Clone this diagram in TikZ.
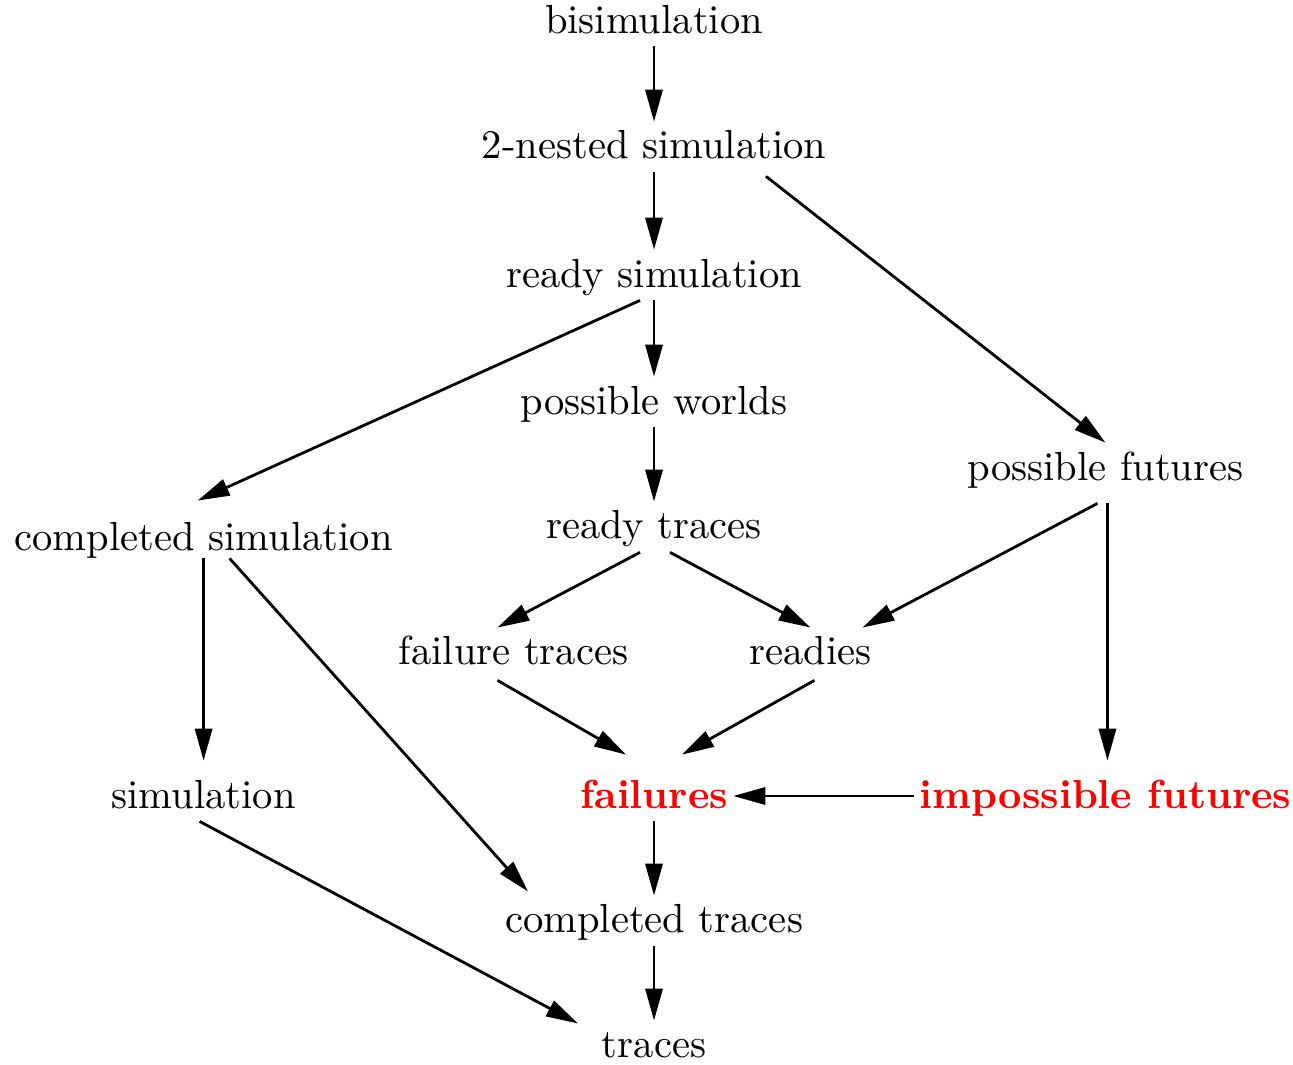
\documentclass[tikz,border=0pt]{standalone}
\usetikzlibrary{arrows.meta}
\begin{document}
\begin{tikzpicture}[auto,
        >={Triangle[length=8pt,width=4.3pt]},
        every path/.style={line width=0.7pt},
        lbl/.style={anchor=base,inner xsep=1pt,inner ysep=3pt,text height=6pt,text depth=0pt,font=\fontsize{10.15}{12}\selectfont},
        hi/.style={lbl,text=red,font=\fontsize{10.15}{12}\selectfont\bfseries}]
        \useasboundingbox (0,0) rectangle (11.362,9.358);

        \draw (5.747,9.068) node (bisim) [lbl] {bisimulation};
        \draw (5.747,7.961) node (nestedSim) [lbl] {2-nested simulation};
        \draw (5.747,6.836) node (readySim) [lbl] {ready simulation};
        \draw (5.747,5.720) node (possWorlds) [lbl] {possible worlds};
        \draw (5.747,4.622) node (readyTraces) [lbl] {ready traces};
        \draw (9.714,5.140) node (possFutures) [lbl] {possible futures};
        \draw (1.789,4.525) node (complSim) [lbl] {completed simulation};
        \draw (4.512,3.515) node (failTraces) [lbl] {failure traces};
        \draw (7.122,3.515) node (readies) [lbl] {readies};
        \draw (1.789,2.258) node (sim) [lbl] {simulation};
        \draw (5.747,2.258) node (failures) [hi] {failures};
        \draw (9.714,2.258) node (imposFutures) [hi] {impossible futures};
        \draw (5.747,1.160) node (complTraces) [lbl] {completed traces};
        \draw (5.747,0.062) node (traces) [lbl] {traces};

        \draw [->,draw] (bisim.south) to (nestedSim.north);
        \draw [->,draw] (nestedSim.south) to (readySim.north);
        \draw [->,draw] ([xshift=28pt,yshift=-1pt]nestedSim.south) to (possFutures.north);
        \draw [->,draw] (readySim.south) to (possWorlds.north);
        \draw [->,draw] ([xshift=-3.5pt]readySim.south) to ([xshift=-1.5pt,yshift=3pt]complSim.north);
        \draw [->,draw] (possWorlds.south) to (readyTraces.north);
        \draw [->,draw] ([xshift=-3.5pt]readyTraces.south) to ([xshift=-4pt]failTraces.north);
        \draw [->,draw] ([xshift=4pt]readyTraces.south) to (readies.north);
        \draw [->,draw] ([xshift=-2pt,yshift=-2.5pt]possFutures.south) to ([xshift=13pt]readies.north);
        \draw [->,draw] ([xshift=0.5pt,yshift=-2.5pt]possFutures.south) to ([xshift=0.5pt,yshift=2.5pt]imposFutures.north);
        \draw [->,draw] ([yshift=1.25pt]complSim.south) to ([yshift=2.5pt]sim.north);
        \draw [->,draw] ([xshift=6.5pt,yshift=1.25pt]complSim.south) to ([xshift=-31.5pt,yshift=1pt]complTraces.north);
        \draw [->,draw] ([xshift=-4pt,yshift=-0.5pt]failTraces.south) to ([xshift=-7pt,yshift=4pt]failures.north);
        \draw [->,draw] ([xshift=1pt,yshift=-0.5pt]readies.south) to ([xshift=7pt,yshift=4pt]failures.north);
        \draw [->,draw] (imposFutures.west) to (failures.east);
        \draw [->,draw] (failures.south) to (complTraces.north);
        \draw [->,draw] ([xshift=-1pt]sim.south) to ([xshift=-19pt,yshift=-0.75pt]traces.north);
        \draw [->,draw] (complTraces.south) to (traces.north);
    \end{tikzpicture}
\end{document}
